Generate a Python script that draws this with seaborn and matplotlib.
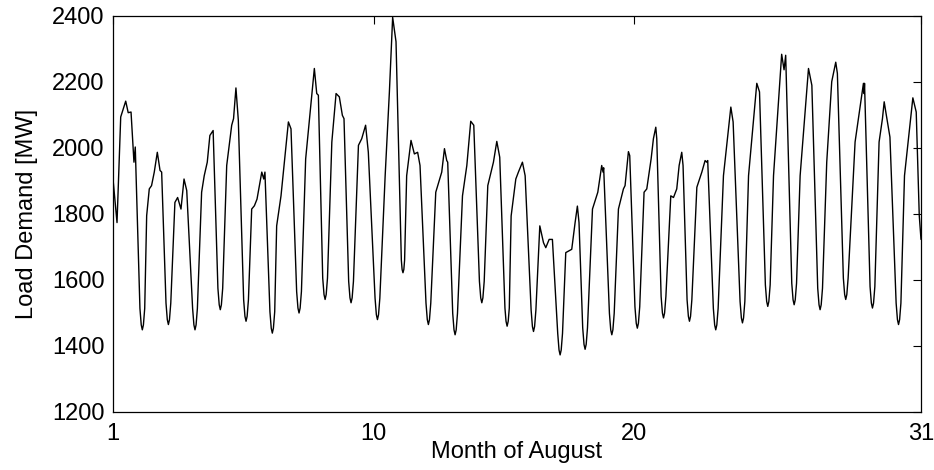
import matplotlib
matplotlib.use("Agg")
import matplotlib.pyplot as plt
import seaborn as sns
import pandas as pd

# Hour of month (0..744) and load demand [MW]
hours = [
    0, 3.7, 7.1, 11.7, 14, 16.6, 19.3, 20.5,
    24.8, 26, 27, 28, 29.2,
    31, 33.4, 35.5, 38, 40.8, 43.3, 44.8,
    48.8, 50, 51, 52, 53.2,
    57, 59.5, 62.6, 65.4, 67.9,
    73.3, 74.5, 75.5, 76.5, 77.7,
    81.6, 84, 86.8, 89.2, 92.2,
    96.6, 97.8, 98.8, 99.8, 101,
    104.7, 109.3, 111, 113.2, 115.4,
    120.3, 121.5, 122.5, 123.5, 124.7,
    127.7, 130.2, 132.6, 137, 138.8, 139.9,
    144.5, 145.7, 146.7, 147.7, 148.9,
    150.7, 154.7, 161.5, 163.9,
    169.1, 170.3, 171.3, 172.3, 173.5,
    177.4, 185.4, 187.6, 189.1,
    193.1, 194.3, 195.3, 196.3, 197.5,
    201.5, 205.4, 208.4, 211.2, 212.7,
    217, 218.2, 219.2, 220.2, 221.4,
    226, 229, 232.6, 235.1,
    241.3, 242.5, 243.5, 244.5, 245.7,
    250.6, 254.5, 257.5, 260.6,
    265.5, 266.2, 267, 267.8, 268.5,
    270.4, 274.4, 277.5, 280.5, 282.7,
    288.2, 289.4, 290.4, 291.4, 292.6,
    297.2, 302.7, 305.2, 307.3, 308.2,
    312.8, 314, 315, 316, 317.2,
    321.8, 325.8, 329.4, 332.2,
    337.4, 338.6, 339.6, 340.6, 341.8,
    345.1, 350.3, 353.4, 356.1,
    360.9, 361.9, 362.9, 363.9, 364.9,
    366.6, 370.9, 373.3, 377, 379.5,
    385, 386.2, 387.2, 388.2, 389.4,
    393, 396.4, 398.5, 401.6, 404.6,
    409.5, 410.7, 411.7, 412.7, 413.9,
    416.9, 422.4, 425.5, 427.6, 429.1,
    432.5, 433.7, 434.7, 435.7, 436.9,
    441.5, 446.4, 450, 451.2, 451.8,
    457.1, 458.3, 459.3, 460.3, 461.5,
    465.4, 470, 471.5, 474.6, 475.8,
    480.6, 481.8, 482.8, 483.8, 485,
    489, 491.5, 495.5, 497.6, 499.8, 500.7,
    504.7, 505.9, 506.9, 507.9, 509.1,
    513.6, 516.1, 519.1, 521.3, 523.7, 524.9,
    528.6, 529.8, 530.8, 531.8, 533,
    537.6, 542.2, 545.2, 546.7, 547.6,
    552.8, 554, 555, 556, 557.2,
    562.1, 568.9, 571,
    577.4, 578.6, 579.6, 580.6, 581.8,
    585.2, 592.8, 595.3,
    600.7, 601.9, 602.9, 603.9, 605.1,
    608.2, 615.7, 617.9, 619.4,
    625, 626.2, 627.2, 628.2, 629.4,
    632.7, 640.4, 643.5,
    648.9, 650.1, 651.1, 652.1, 653.3,
    657.2, 661.8, 665.5, 667,
    672.5, 673.7, 674.7, 675.7, 676.9,
    683.3, 691, 691.6, 692,
    697.1, 698.3, 699.3, 700.3, 701.5,
    705.4, 708.5, 710.1, 711.6, 715.4,
    721.1, 722.3, 723.3, 724.3, 725.5,
    728.8, 736.5, 739.6, 742.4, 744,
]
load_mw = [
    1906, 1774, 2094, 2142, 2107, 2109, 1957, 2003,
    1514, 1464, 1449, 1464, 1514,
    1795, 1876, 1886, 1927, 1987, 1932, 1927,
    1530, 1480, 1465, 1480, 1530,
    1835, 1850, 1815, 1906, 1871,
    1514, 1464, 1449, 1464, 1514,
    1866, 1916, 1957, 2038, 2053,
    1575, 1525, 1510, 1525, 1575,
    1947, 2069, 2089, 2182, 2084,
    1540, 1490, 1475, 1490, 1540,
    1815, 1825, 1845, 1927, 1906, 1927,
    1504, 1454, 1439, 1454, 1504,
    1764, 1855, 2079, 2058,
    1565, 1515, 1500, 1515, 1565,
    1967, 2241, 2165, 2160,
    1606, 1556, 1541, 1556, 1606,
    2018, 2165, 2155, 2099, 2089,
    1596, 1546, 1531, 1546, 1596,
    2008, 2028, 2069, 1987,
    1545, 1495, 1480, 1495, 1545,
    1916, 2170, 2396, 2322,
    1660, 1632, 1622, 1632, 1660,
    1916, 2023, 1982, 1987, 1947,
    1530, 1480, 1465, 1480, 1530,
    1866, 1927, 1998, 1962, 1957,
    1499, 1449, 1434, 1449, 1499,
    1855, 1947, 2081, 2069,
    1596, 1546, 1531, 1546, 1596,
    1886, 1957, 2020, 1972,
    1515, 1475, 1460, 1475, 1515,
    1794, 1906, 1927, 1957, 1916,
    1509, 1459, 1444, 1459, 1509,
    1764, 1713, 1698, 1723, 1723,
    1438, 1388, 1373, 1388, 1438,
    1683, 1693, 1774, 1824, 1774,
    1455, 1405, 1390, 1405, 1455,
    1815, 1866, 1947, 1927, 1940,
    1499, 1449, 1434, 1449, 1499,
    1815, 1876, 1886, 1989, 1977,
    1519, 1469, 1454, 1469, 1519,
    1866, 1876, 1967, 2028, 2063, 2028,
    1550, 1500, 1485, 1500, 1550,
    1855, 1850, 1876, 1947, 1987, 1947,
    1540, 1490, 1475, 1490, 1540,
    1881, 1927, 1962, 1957, 1962,
    1514, 1464, 1449, 1464, 1514,
    1916, 2124, 2079,
    1535, 1485, 1470, 1485, 1535,
    1916, 2196, 2170,
    1585, 1535, 1520, 1535, 1585,
    1916, 2284, 2237, 2281,
    1590, 1540, 1525, 1540, 1590,
    1916, 2241, 2190,
    1575, 1525, 1510, 1525, 1575,
    1957, 2201, 2260, 2226,
    1606, 1556, 1541, 1556, 1606,
    2018, 2196, 2165, 2196,
    1580, 1530, 1515, 1530, 1580,
    2018, 2089, 2140, 2109, 2033,
    1530, 1480, 1465, 1480, 1530,
    1916, 2152, 2109, 1795, 1723,
]

x_tick_hours = [0, 240, 480, 744]
x_tick_labels = ["1", "10", "20", "31"]
y_ticks = [1200, 1400, 1600, 1800, 2000, 2200, 2400]

df = pd.DataFrame({"hour": hours, "load": load_mw})

sns.set_theme(style="white")
plt.rcParams["font.family"] = ["Liberation Sans", "DejaVu Sans"]

fig = plt.figure(figsize=(9.34, 4.70), dpi=100)
ax = fig.add_axes([113 / 934, 1 - 412 / 470, 808 / 934, 396 / 470])

sns.lineplot(data=df, x="hour", y="load", ax=ax, color="black", linewidth=1.0)

ax.set_xlim(0, 744)
ax.set_ylim(1200, 2400)
ax.set_xticks(x_tick_hours)
ax.set_xticklabels(x_tick_labels)
ax.set_yticks(y_ticks)
ax.set_xlabel("Month of August", fontsize=17, labelpad=-3, color="black")
ax.set_ylabel("Load Demand [MW]", fontsize=17, labelpad=10, color="black")

ax.tick_params(direction="in", top=True, right=True, length=6, width=0.8,
               labelsize=17, colors="black", pad=6)
ax.tick_params(axis="x", pad=8)
for sp in ax.spines.values():
    sp.set_color("black")
    sp.set_linewidth(0.9)
    sp.set_visible(True)

fig.savefig("out.png", dpi=100, facecolor="white")
